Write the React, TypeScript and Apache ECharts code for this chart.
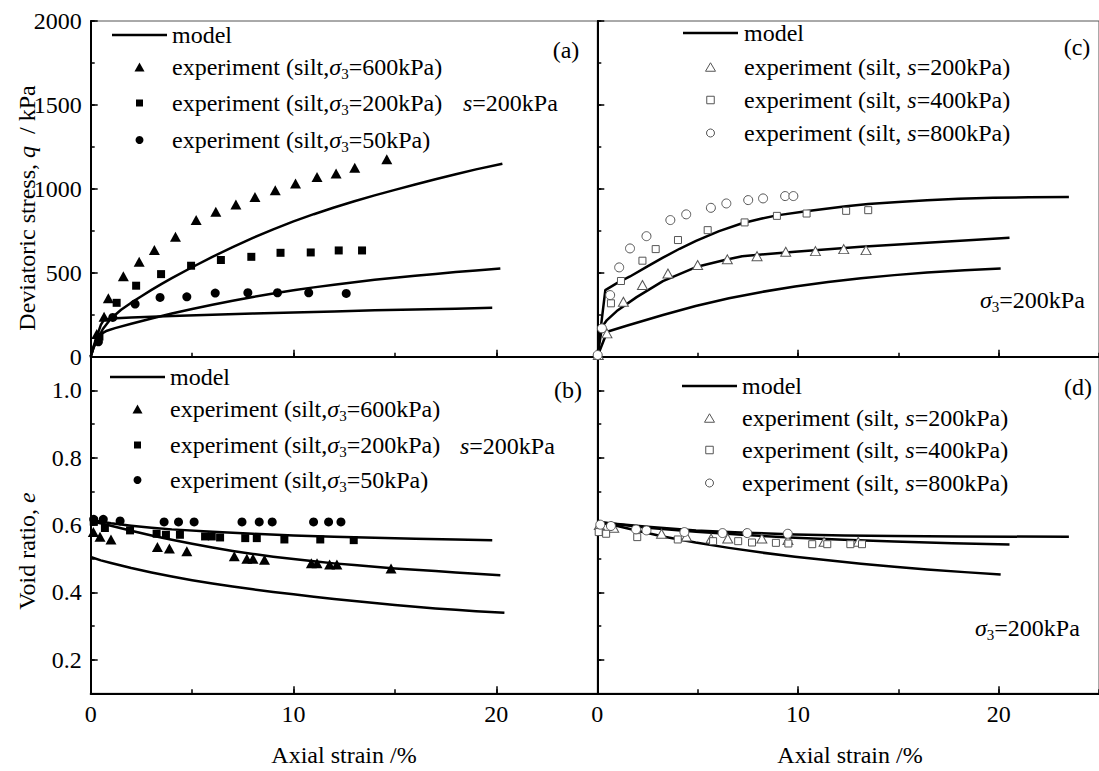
import React, { useEffect, useRef } from 'react';
import * as echarts from 'echarts';

const FONT = 'Liberation Serif';

// ---------- tick values ----------
const strainTicks = [0, 10, 20];
const qTicks = [0, 500, 1000, 1500, 2000];
const eTicks = [0.2, 0.4, 0.6, 0.8, 1.0];

// ---------- panel (a): q vs axial strain, s = 200 kPa ----------
const aExp600: number[][] = [[0.3, 135], [0.66, 238], [0.87, 348], [1.61, 480], [2.39, 565], [3.14, 635], [4.18, 714], [5.2, 814], [6.17, 863], [7.16, 907], [8.1, 952], [9.1, 992], [10.1, 1032], [11.16, 1071], [12.1, 1091], [13.02, 1125], [14.6, 1177]];
const aExp200: number[][] = [[0.43, 120], [1.28, 321], [2.24, 423], [3.47, 492], [4.95, 542], [6.42, 576], [7.92, 595], [9.36, 619], [10.85, 621], [12.23, 633], [13.38, 633]];
const aExp50: number[][] = [[0.38, 89], [1.09, 234], [2.19, 314], [3.42, 353], [4.74, 357], [6.14, 379], [7.75, 381], [9.21, 381], [10.75, 381], [12.6, 377]];
const aModel600: number[][] = [[0, 0], [0.15, 55], [0.3, 95], [0.6, 165], [1, 228], [1.5, 280], [2, 322], [2.5, 360], [3, 398], [3.5, 434], [4, 468], [5, 533], [6, 595], [7, 653], [8, 708], [9, 759], [10, 806], [11, 849], [12, 889], [13, 926], [14, 961], [15, 994], [16, 1026], [17, 1057], [18, 1087], [19, 1116], [20.3, 1150]];
const aModel200: number[][] = [[0, 0], [0.15, 60], [0.3, 100], [0.5, 135], [0.8, 155], [1.2, 170], [2, 196], [3, 228], [4, 257], [5, 284], [6, 309], [7, 333], [8, 356], [9, 377], [10, 396], [11, 413], [12, 429], [13, 444], [14, 458], [15, 470], [16, 482], [17, 493], [18, 504], [19, 514], [20.2, 525]];
const aModel50: number[][] = [[0, 0], [0.15, 65], [0.3, 120], [0.5, 190], [0.65, 220], [1, 227], [2, 233], [4, 242], [6, 250], [8, 257], [10, 264], [12, 270], [14, 276], [16, 281], [18, 286], [19.8, 291]];

// ---------- panel (b): e vs axial strain, s = 200 kPa ----------
const bExp600: number[][] = [[0.13, 0.579], [0.46, 0.565], [1.0, 0.557], [3.29, 0.535], [3.88, 0.53], [4.74, 0.522], [7.08, 0.507], [7.7, 0.5], [8.0, 0.5], [8.57, 0.497], [10.88, 0.486], [11.16, 0.486], [11.78, 0.483], [12.14, 0.483], [14.81, 0.471]];
const bExp200: number[][] = [[0.15, 0.61], [0.7, 0.591], [1.94, 0.584], [3.25, 0.574], [3.71, 0.571], [4.4, 0.571], [5.64, 0.566], [5.97, 0.566], [6.38, 0.563], [7.62, 0.561], [8.19, 0.561], [9.55, 0.557], [11.32, 0.557], [12.97, 0.555]];
const bExp50: number[][] = [[0.15, 0.617], [0.62, 0.617], [1.45, 0.612], [3.62, 0.609], [4.33, 0.609], [5.1, 0.609], [7.46, 0.609], [8.31, 0.609], [8.95, 0.609], [10.99, 0.609], [11.73, 0.609], [12.34, 0.609]];
const bModelTop: number[][] = [[0, 0.615], [1, 0.605], [2, 0.598], [3, 0.592], [4, 0.587], [6, 0.58], [8, 0.574], [10, 0.569], [12, 0.565], [14, 0.562], [16, 0.559], [18, 0.557], [19.8, 0.555]];
const bModelMid: number[][] = [[0, 0.612], [1, 0.598], [2, 0.583], [3, 0.569], [4, 0.556], [5, 0.544], [6, 0.533], [7, 0.523], [8, 0.514], [9, 0.506], [10, 0.499], [11, 0.492], [12, 0.486], [13, 0.481], [14, 0.476], [15, 0.471], [16, 0.467], [17, 0.463], [18, 0.459], [19, 0.455], [20.2, 0.451]];
const bModelLow: number[][] = [[0, 0.505], [0.5, 0.495], [1, 0.487], [2, 0.472], [3, 0.459], [4, 0.447], [5, 0.436], [6, 0.426], [7, 0.417], [8, 0.409], [9, 0.401], [10, 0.394], [11, 0.387], [12, 0.38], [13, 0.374], [14, 0.368], [15, 0.362], [16, 0.357], [17, 0.352], [18, 0.348], [19, 0.344], [20.4, 0.339]];

// ---------- panel (c): q vs axial strain, sigma3 = 200 kPa ----------
const cExp200: number[][] = [[0.05, 10], [0.48, 139], [1.3, 327], [2.25, 427], [3.52, 496], [5.0, 546], [6.48, 580], [7.96, 599], [9.39, 625], [10.87, 629], [12.28, 641], [13.39, 635]];
const cExp400: number[][] = [[0.68, 318], [1.18, 451], [2.25, 572], [2.91, 641], [4.02, 695], [5.5, 754], [7.34, 800], [8.95, 839], [10.43, 853], [12.4, 869], [13.5, 873]];
const cExp800: number[][] = [[0.02, 10], [0.23, 169], [0.64, 367], [1.09, 532], [1.63, 645], [2.45, 718], [3.64, 814], [4.43, 848], [5.66, 887], [6.43, 913], [7.52, 933], [8.26, 943], [9.36, 957], [9.77, 957]];
const cModelTop: number[][] = [[0, 0], [0.4, 397], [1.0, 440], [1.63, 478], [2.5, 538], [3.27, 590], [4.1, 643], [4.92, 690], [6.07, 748], [7.22, 795], [8.2, 823], [8.95, 842], [10.4, 866], [12.4, 897], [13.5, 910], [15, 922], [16.43, 932], [18, 941], [19.72, 947], [21.5, 950], [23.5, 952]];
const cModelMid: number[][] = [[0, 0], [0.24, 179], [0.48, 218], [0.97, 272], [1.96, 355], [3.27, 450], [4.92, 534], [6.4, 578], [7.22, 599], [8.5, 612], [9.85, 625], [11.5, 640], [13.14, 655], [14.8, 667], [16.43, 679], [18.5, 694], [20.54, 708]];
const cModelLow: number[][] = [[0, 0], [0.49, 149], [1.5, 186], [3.27, 248], [4.9, 302], [6.56, 348], [8.2, 386], [9.85, 418], [11.5, 445], [13.14, 468], [14.8, 486], [16.43, 502], [18.3, 515], [20.1, 526]];

// ---------- panel (d): e vs axial strain, sigma3 = 200 kPa ----------
const dExp200: number[][] = [[0.1, 0.6], [0.82, 0.592], [3.2, 0.574], [4.44, 0.566], [5.67, 0.56], [6.5, 0.56], [8.2, 0.56], [9.5, 0.555], [11.3, 0.55], [13.0, 0.55]];
const dExp400: number[][] = [[0.07, 0.579], [0.44, 0.574], [1.99, 0.564], [4.01, 0.557], [5.77, 0.552], [7.02, 0.552], [7.71, 0.548], [8.9, 0.547], [9.52, 0.545], [10.71, 0.543], [11.46, 0.543], [12.61, 0.543], [13.19, 0.543]];
const dExp800: number[][] = [[0.15, 0.601], [0.68, 0.597], [1.93, 0.587], [2.45, 0.584], [4.34, 0.579], [6.24, 0.576], [7.47, 0.576], [9.49, 0.574]];
const dModelTop: number[][] = [[0, 0.609], [1, 0.603], [2.5, 0.595], [4.92, 0.584], [7.4, 0.577], [9.85, 0.572], [12.3, 0.569], [14.8, 0.567], [18, 0.566], [23.5, 0.565]];
const dModelMid: number[][] = [[0, 0.609], [1, 0.602], [2.5, 0.592], [4.92, 0.58], [7.4, 0.57], [9.85, 0.562], [12.3, 0.556], [14.8, 0.551], [17.7, 0.546], [20.54, 0.542]];
const dModelLow: number[][] = [[0, 0.609], [1, 0.597], [2, 0.583], [3.27, 0.566], [4.9, 0.548], [6.56, 0.532], [8.2, 0.518], [9.85, 0.506], [11.5, 0.495], [13.14, 0.485], [14.8, 0.476], [16.43, 0.468], [18.3, 0.46], [20.1, 0.453]];

// ---------- texts ----------
const legendSigma = ['600', '200', '50'];
const legendSuction = ['200', '400', '800'];

const RICH: any = {
  n: { fontSize: 24, fontFamily: FONT, fill: '#000', lineHeight: 28 },
  i: { fontSize: 24, fontFamily: FONT, fontStyle: 'italic', fill: '#000', lineHeight: 28 },
  sub: { fontSize: 15, fontFamily: FONT, fill: '#000', lineHeight: 15, verticalAlign: 'bottom' },
};

function txt(x: number, y: number, text: string, rotation = 0, align = 'left') {
  return {
    type: 'text', x, y, rotation, silent: true,
    style: { text, rich: RICH, align, verticalAlign: 'middle', fontFamily: FONT, fontSize: 24, fill: '#000' },
  };
}

function marker(kind: string, cx: number, cy: number, filled: boolean) {
  const style = filled ? { fill: '#000' } : { fill: '#fff', stroke: '#555', lineWidth: 1 };
  if (kind === 'triangle') {
    const w = 10;
    const h = filled ? 9 : 8.5;
    return { type: 'polygon', silent: true, shape: { points: [[cx, cy - h / 2], [cx + w / 2, cy + h / 2], [cx - w / 2, cy + h / 2]] }, style };
  }
  if (kind === 'rect') {
    const s = filled ? 7 : 7.5;
    return { type: 'rect', silent: true, shape: { x: cx - s / 2, y: cy - s / 2, width: s, height: s }, style };
  }
  return { type: 'circle', silent: true, shape: { cx, cy, r: 4 }, style };
}

function legend(x1: number, x2: number, textX: number, rows: number[], labels: string[], filled: boolean) {
  const kinds = ['triangle', 'rect', 'circle'];
  const out: any[] = [
    { type: 'line', silent: true, shape: { x1, y1: rows[0], x2, y2: rows[0] }, style: { stroke: '#000', lineWidth: 2.5 } },
    txt(textX, rows[0], '{n|model}'),
  ];
  labels.forEach((lab, k) => {
    const cy = rows[k + 1];
    out.push(marker(kinds[k], (x1 + x2) / 2, cy, filled));
    const t = filled
      ? `{n|experiment (silt,}{i|σ}{sub|3}{n|=${lab}kPa)}`
      : `{n|experiment (silt, }{i|s}{n|=${lab}kPa)}`;
    out.push(txt(textX, cy, t));
  });
  return out;
}

export default function App() {
  const ref = useRef<HTMLDivElement>(null);

  useEffect(() => {
    const chart = echarts.init(ref.current!, null, { renderer: 'svg' });

    const grids = [
      { left: 90.7, top: 21, width: 507, height: 335.7 },
      { left: 90.7, top: 356.7, width: 507, height: 336.6 },
      { left: 597.3, top: 21, width: 507, height: 335.7 },
      { left: 597.3, top: 356.7, width: 507, height: 336.6 },
    ].map((g) => ({ ...g, show: true, borderColor: '#555', borderWidth: 1, containLabel: false }));

    const labelStyle = { fontSize: 24, fontFamily: FONT, color: '#000' };
    const axisLine = { show: true, onZero: false, lineStyle: { color: '#000', width: 2 } };
    const tickLine = { color: '#000', width: 1.5 };
    const plain = (v: number) => String(v);

    const xAxis: any[] = [];
    const yAxis: any[] = [];
    for (let i = 0; i < 4; i++) {
      const isBottom = i === 1 || i === 3;
      const isLeft = i < 2;
      xAxis.push({
        gridIndex: i, type: 'value', position: 'bottom', min: 0, max: 25, interval: 10,
        axisLine,
        axisTick: { show: true, inside: true, length: 7, customValues: strainTicks, lineStyle: tickLine },
        axisLabel: { show: isBottom, customValues: strainTicks, margin: 9, formatter: plain, ...labelStyle },
        splitLine: { show: false },
      });
      xAxis.push({
        gridIndex: i, type: 'value', position: 'bottom', min: 0, max: 25, interval: 5,
        axisLine: { show: false },
        axisTick: { show: true, inside: true, length: 4, lineStyle: tickLine },
        axisLabel: { show: false },
        splitLine: { show: false },
      });
      if (!isBottom) {
        yAxis.push({
          gridIndex: i, type: 'value', position: 'left', min: 0, max: 2000, interval: 500,
          axisLine,
          axisTick: { show: true, inside: true, length: 7, customValues: qTicks, lineStyle: tickLine },
          axisLabel: { show: isLeft, customValues: qTicks, margin: 9, formatter: plain, ...labelStyle },
          splitLine: { show: false },
        });
        yAxis.push({
          gridIndex: i, type: 'value', position: 'left', min: 0, max: 2000, interval: 250,
          axisLine: { show: false },
          axisTick: { show: true, inside: true, length: 4, lineStyle: tickLine },
          axisLabel: { show: false },
          splitLine: { show: false },
        });
      } else {
        yAxis.push({
          gridIndex: i, type: 'value', position: 'left', min: 0.1, max: 1.1, interval: 0.1,
          axisLine,
          axisTick: { show: true, inside: true, length: 7, customValues: eTicks, lineStyle: tickLine },
          axisLabel: { show: isLeft, customValues: eTicks, margin: 9, formatter: (v: number) => v.toFixed(1), ...labelStyle },
          splitLine: { show: false },
        });
        yAxis.push({
          gridIndex: i, type: 'value', position: 'left', min: 0.1, max: 1.1, interval: 0.1,
          axisLine: { show: false },
          axisTick: { show: true, inside: true, length: 4, lineStyle: tickLine },
          axisLabel: { show: false },
          splitLine: { show: false },
        });
      }
    }

    const model = (data: number[][], g: number) => ({
      type: 'line', name: 'model', xAxisIndex: g * 2, yAxisIndex: g * 2, data,
      showSymbol: false, symbol: 'none', smooth: false,
      lineStyle: { color: '#000', width: 2.5, join: 'round' }, z: 3, silent: true,
    });
    const exp = (data: number[][], g: number, symbol: string, size: any, filled: boolean) => ({
      type: 'scatter', xAxisIndex: g * 2, yAxisIndex: g * 2, data, symbol, symbolSize: size,
      itemStyle: filled
        ? { color: '#000', opacity: 1 }
        : { color: '#fff', borderColor: '#555', borderWidth: 1, opacity: 1 },
      z: 4, silent: true,
    });

    const series = [
      model(aModel600, 0), model(aModel200, 0), model(aModel50, 0),
      exp(aExp600, 0, 'triangle', [11, 10], true), exp(aExp200, 0, 'rect', 8, true), exp(aExp50, 0, 'circle', 9, true),
      model(bModelTop, 1), model(bModelMid, 1), model(bModelLow, 1),
      exp(bExp600, 1, 'triangle', [11, 10], true), exp(bExp200, 1, 'rect', 8, true), exp(bExp50, 1, 'circle', 9, true),
      model(cModelTop, 2), model(cModelMid, 2), model(cModelLow, 2),
      exp(cExp200, 2, 'triangle', [10, 9], false), exp(cExp400, 2, 'rect', 7, false), exp(cExp800, 2, 'circle', 9, false),
      model(dModelTop, 3), model(dModelMid, 3), model(dModelLow, 3),
      exp(dExp200, 3, 'triangle', [10, 9], false), exp(dExp400, 3, 'rect', 7, false), exp(dExp800, 3, 'circle', 9, false),
    ];

    const graphic: any[] = [
      ...legend(112, 167, 172, [35, 67, 103, 140], legendSigma, true),
      ...legend(110, 165, 170, [377, 409, 445, 480], legendSigma, true),
      ...legend(683, 738, 744, [33, 67, 100, 133], legendSuction, false),
      ...legend(682, 737, 742, [386, 418, 450, 483], legendSuction, false),
      txt(566, 50, '{n|(a)}', 0, 'center'),
      txt(568, 390, '{n|(b)}', 0, 'center'),
      txt(1077, 47, '{n|(c)}', 0, 'center'),
      txt(1078, 387, '{n|(d)}', 0, 'center'),
      txt(463, 103, '{i|s}{n|=200kPa}'),
      txt(460, 446, '{i|s}{n|=200kPa}'),
      txt(980, 300, '{i|σ}{sub|3}{n|=200kPa}'),
      txt(975, 628, '{i|σ}{sub|3}{n|=200kPa}'),
      txt(27, 208, '{n|Deviatoric stress, }{i|q}{n|  / kPa}', Math.PI / 2, 'center'),
      txt(27, 551, '{n|Void ratio, }{i|e}', Math.PI / 2, 'center'),
      txt(344, 755, '{n|Axial strain /%}', 0, 'center'),
      txt(850, 755, '{n|Axial strain /%}', 0, 'center'),
    ];

    chart.setOption({
      animation: false,
      backgroundColor: '#fff',
      textStyle: { fontFamily: FONT },
      grid: grids,
      xAxis,
      yAxis,
      series,
      graphic,
    });

    return () => chart.dispose();
  }, []);

  return (
    <div
      ref={ref}
      style={{ position: 'fixed', left: 0, top: 0, width: 1099, height: 771, background: '#fff' }}
    />
  );
}
